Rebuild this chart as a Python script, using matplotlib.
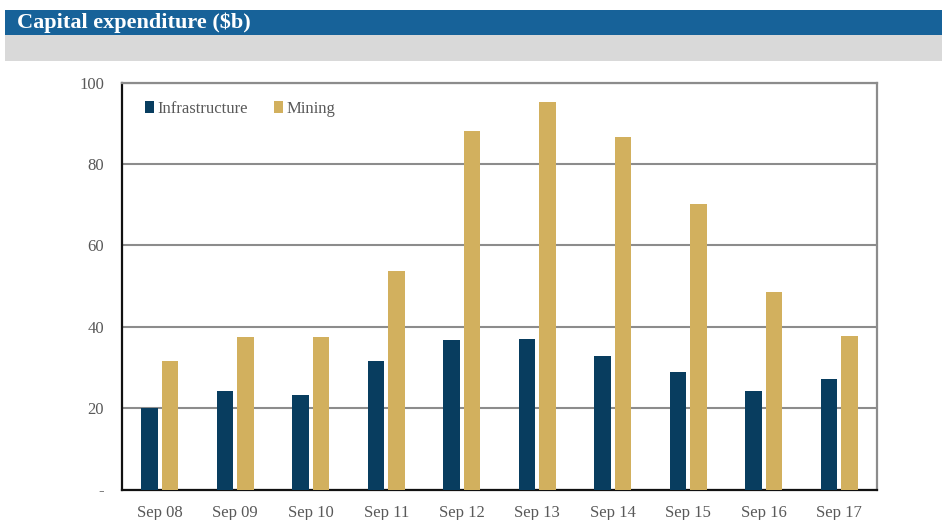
import matplotlib

matplotlib.use("Agg")
import matplotlib.pyplot as plt
import numpy as np
from matplotlib.patches import Rectangle

# data
categories = ["Sep 08", "Sep 09", "Sep 10", "Sep 11", "Sep 12",
              "Sep 13", "Sep 14", "Sep 15", "Sep 16", "Sep 17"]
infrastructure = [20.1, 24.1, 23.3, 31.7, 36.8, 37.1, 32.9, 29.0, 24.1, 27.1]
mining = [31.7, 37.4, 37.4, 53.6, 88.2, 95.2, 86.7, 70.2, 48.6, 37.8]
y_ticks = [0, 20, 40, 60, 80, 100]
y_labels = ["-", "20", "40", "60", "80", "100"]

NAVY, GOLD, BANNER, BAND, TXT, GRID = "#083d5f", "#d2b05e", "#176299", "#d9d9d9", "#595959", "#8c8c8c"
plt.rcParams.update({"font.family": ["Liberation Serif", "DejaVu Serif"], "font.size": 12})

W, H = 942, 520
fig = plt.figure(figsize=(W / 100, H / 100), dpi=100)

# header banner + grey band
fig.patches.append(Rectangle((5 / W, 1 - 35 / H), 937 / W, 25 / H, transform=fig.transFigure,
                             facecolor=BANNER, edgecolor="none", zorder=0))
fig.patches.append(Rectangle((5 / W, 1 - 61 / H), 937 / W, 26 / H, transform=fig.transFigure,
                             facecolor=BAND, edgecolor="none", zorder=0))
fig.text(17 / W, 1 - 22.5 / H, "Capital expenditure ($b)", color="white", fontsize=16,
         fontweight="bold", va="center", ha="left")

ax = fig.add_axes([122 / W, 30.5 / H, 755 / W, 406.8 / H])
x = np.arange(len(categories))
w = 0.22
ax.bar(x - 0.137, infrastructure, w, color=NAVY, label="Infrastructure", zorder=3)
ax.bar(x + 0.137, mining, w, color=GOLD, label="Mining", zorder=3)

ax.set_xlim(-0.5, len(categories) - 0.5)
ax.set_ylim(0, 100)
ax.set_yticks(y_ticks)
ax.set_yticklabels(y_labels)
ax.set_xticks(x)
ax.set_xticklabels(categories)
ax.tick_params(length=0, colors=TXT, labelsize=12)
ax.tick_params(axis="y", pad=13)
ax.tick_params(axis="x", pad=11)
ax.yaxis.grid(True, color=GRID, lw=1.5, zorder=1)
ax.set_axisbelow(True)

for s in ["left", "bottom"]:
    ax.spines[s].set_color("#111111")
    ax.spines[s].set_linewidth(1.6)
for s in ["top", "right"]:
    ax.spines[s].set_color(GRID)
    ax.spines[s].set_linewidth(1.6)

leg = ax.legend(loc="upper left", bbox_to_anchor=(0.010, 0.992), frameon=False, ncol=2,
                handlelength=0.55, handleheight=0.75, handletextpad=0.2, columnspacing=1.6,
                fontsize=12)
for t in leg.get_texts():
    t.set_color(TXT)

fig.savefig("out.png", dpi=100)
